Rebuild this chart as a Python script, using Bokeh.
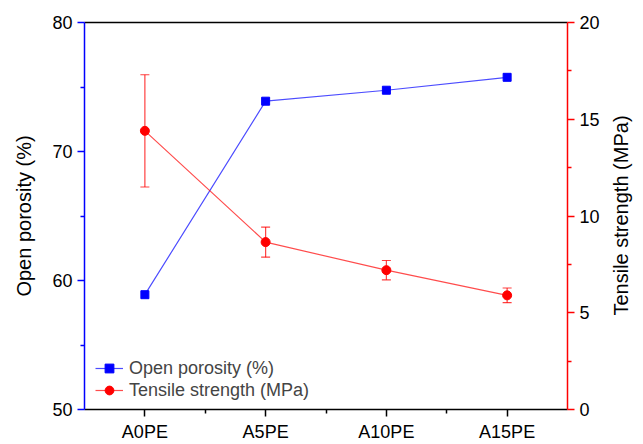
import math
from bokeh.plotting import figure
from bokeh.models import (Range1d, LinearAxis, FixedTicker, Whisker, TeeHead,
                          ColumnDataSource, Legend, LegendItem, Label)
from bokeh.embed import file_html
from bokeh.resources import INLINE

# ---- data ----
categories = ["A0PE", "A5PE", "A10PE", "A15PE"]
x_pos = [0, 1, 2, 3]
porosity = [58.9, 73.9, 74.75, 75.75]
tensile = [14.4, 8.65, 7.2, 5.9]
tensile_err = [2.9, 0.78, 0.5, 0.38]

left_ticks = [50, 60, 70, 80]
left_minor = [55, 65, 75]
right_ticks = [0, 5, 10, 15, 20]
right_minor = [2.5, 7.5, 12.5, 17.5]
x_minor = [0.5, 1.5, 2.5]

FONT = "Liberation Sans"
BLUE = "#0000ff"
RED = "#ff0000"

p = figure(width=643, height=444, output_backend="svg", toolbar_location=None,
           x_range=Range1d(-0.5, 3.5), y_range=Range1d(50, 80),
           x_axis_location=None, y_axis_location=None,
           min_border_left=84, min_border_right=76, min_border_top=22,
           min_border_bottom=34)
p.extra_y_ranges = {"right": Range1d(0, 20)}
p.grid.visible = False
p.outline_line_color = None
p.background_fill_color = "white"
p.border_fill_color = "white"


def style(ax, color):
    ax.axis_line_color = color
    ax.axis_line_width = 1.5
    ax.major_tick_line_color = color
    ax.minor_tick_line_color = color
    ax.major_tick_line_width = 1.5
    ax.minor_tick_line_width = 1.5
    ax.major_tick_in = 0
    ax.major_tick_out = 7
    ax.minor_tick_in = 0
    ax.minor_tick_out = 4
    ax.major_label_text_font = FONT
    ax.major_label_text_font_size = "18px"
    ax.major_label_text_color = "black"
    ax.axis_label_text_font = FONT
    ax.axis_label_text_font_size = "20px"
    ax.axis_label_text_font_style = "normal"
    ax.axis_label_text_color = "black"
    ax.major_label_standoff = 5


left = LinearAxis(ticker=FixedTicker(ticks=left_ticks, minor_ticks=left_minor),
                  axis_label="Open porosity (%)")
style(left, BLUE)
left.axis_label_standoff = 14
p.add_layout(left, "left")

right = LinearAxis(y_range_name="right",
                   ticker=FixedTicker(ticks=right_ticks, minor_ticks=right_minor))
style(right, RED)
p.add_layout(right, "right")

# right axis title, reading bottom-to-top, in its own side panel (not clipped)
right_title = Label(x=620, y=215, x_units="canvas", y_units="canvas",
                    text="Tensile strength (MPa)",
                    angle=math.pi / 2, text_align="center", text_baseline="middle",
                    text_font=FONT, text_font_size="20px", text_color="black")
p.add_layout(right_title, "right")

bottom = LinearAxis(ticker=FixedTicker(ticks=x_pos, minor_ticks=x_minor),
                    major_label_overrides={x: c for x, c in zip(x_pos, categories)})
style(bottom, "black")
bottom.major_label_standoff = 5
p.add_layout(bottom, "below")

top = LinearAxis(ticker=FixedTicker(ticks=[]))
style(top, "black")
top.major_tick_out = 0
top.minor_tick_out = 0
top.major_label_text_font_size = "0px"
top.major_label_standoff = 0
p.add_layout(top, "above")

# porosity series
lp = p.line(x_pos, porosity, line_color=BLUE, line_width=1.2, line_alpha=0.7)
sp = p.scatter(x_pos, porosity, marker="square", size=8, fill_color=BLUE,
               line_color=BLUE)

# tensile series
src = ColumnDataSource(dict(
    x=x_pos, t=tensile,
    lo=[t - e for t, e in zip(tensile, tensile_err)],
    hi=[t + e for t, e in zip(tensile, tensile_err)],
))
w = Whisker(source=src, base="x", upper="hi", lower="lo", dimension="height",
            y_range_name="right", line_color=RED, line_alpha=0.75, line_width=1.2,
            upper_head=TeeHead(size=9, line_color=RED, line_alpha=0.75, line_width=1.2),
            lower_head=TeeHead(size=9, line_color=RED, line_alpha=0.75, line_width=1.2))
p.add_layout(w)
lt = p.line("x", "t", source=src, y_range_name="right", line_color=RED,
            line_width=1.2, line_alpha=0.7)
ct = p.scatter("x", "t", source=src, y_range_name="right", marker="circle",
               size=9, fill_color=RED, line_color=RED)

legend = Legend(items=[LegendItem(label="Open porosity (%)", renderers=[lp, sp]),
                       LegendItem(label="Tensile strength (MPa)", renderers=[lt, ct])],
                location=(11, 8), border_line_color=None, background_fill_alpha=0,
                label_text_font=FONT, label_text_font_size="18px",
                glyph_width=28, glyph_height=22, label_height=22, spacing=0,
                padding=0, margin=0, label_standoff=6)
p.add_layout(legend)

open("out.html", "w").write(file_html(p, INLINE))
